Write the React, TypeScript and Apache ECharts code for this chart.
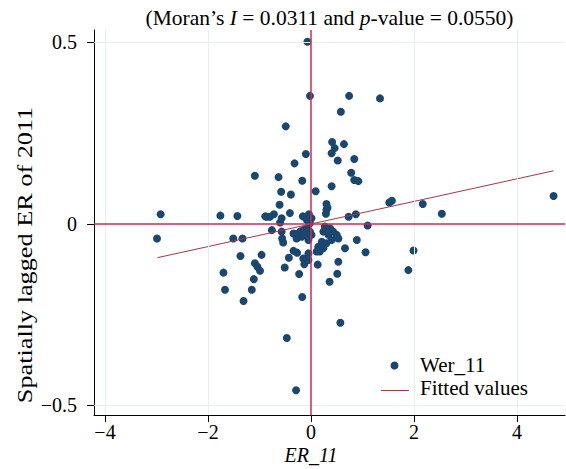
import React, { useEffect, useRef } from 'react';
import * as echarts from 'echarts';

const erValues = [
  -0.07, -0.02, 0.74, 1.34, 0.58, -0.49, 0.41, 0.46, 0.40, 0.64,
  -0.10, 0.52, 0.84, -0.32, 0.78, -1.09, -0.63, -0.17, 0.84, 0.92,
  0.40, -0.58, 0.09, -0.39, -0.61, 0.30, 0.32, 0.29, 1.52, 1.57,
  2.17, 2.54, 4.71, -2.92, -2.99, -1.76, -1.43, -0.89, -0.80, -0.72,
  -0.41, -0.57, -0.60, -0.16, -0.04, 0.01, -0.08, -0.02, 0.73, 0.87,
  1.10, 0.27, 0.37, 0.43, 0.50, 0.53, 0.34, 0.24, 0.40, 0.30,
  0.21, 0.14, 0.11, 0.24, 0.17, 0.66, 0.89, 1.06, -0.05, -0.05,
  0.13, 0.53, 0.51, 0.36, 1.99, 1.89, 0.57, -0.17, -0.47, -0.29,
  -1.51, -1.33, -1.37, -0.96, -1.09, -1.04, -0.99, -1.70, -1.67, -1.11,
  -1.15, -1.31, -0.76, -0.57, -0.56, -0.54, -0.34, -0.28, -0.21, -0.15,
  -0.08, -0.18, -0.12, -0.02, 0.01, -0.05, -0.28, -0.34, -0.27, -0.15,
  -0.13, -0.43, -0.51, -0.23, -0.86, 0.30
];
const laggedValues = [
  0.502, 0.353, 0.353, 0.346, 0.309, 0.269, 0.226, 0.209, 0.195, 0.220,
  0.193, 0.175, 0.179, 0.167, 0.141, 0.133, 0.129, 0.119, 0.121, 0.118,
  0.104, 0.089, 0.090, 0.081, 0.053, 0.055, 0.045, 0.028, 0.059, 0.064,
  0.055, 0.028, 0.077, 0.027, -0.040, 0.023, 0.022, 0.021, 0.020, 0.027,
  0.030, 0.016, 0.004, 0.021, 0.027, 0.016, 0.011, 0.002, 0.020, 0.027,
  -0.004, -0.007, -0.012, -0.021, -0.030, -0.040, -0.030, -0.021, -0.044, -0.053,
  -0.049, -0.063, -0.076, -0.067, -0.076, -0.067, -0.044, -0.078, -0.081, -0.099,
  -0.112, -0.104, -0.137, -0.159, -0.073, -0.127, -0.272, -0.201, -0.314, -0.458,
  -0.040, -0.040, -0.088, -0.085, -0.108, -0.118, -0.129, -0.134, -0.181, -0.152,
  -0.181, -0.212, -0.017, -0.021, -0.040, -0.051, -0.026, -0.028, -0.021, -0.017,
  -0.012, -0.035, -0.030, -0.021, -0.030, -0.044, -0.040, -0.074, -0.079, -0.095,
  -0.111, -0.093, -0.120, -0.138, 0.020, 0.039
];
const fittedX = [-2.98, 4.71];
const fittedY = [-0.0927, 0.1465];
const xTicks = [-4, -2, 0, 2, 4];
const yTicks = [-0.5, 0, 0.5];
const xGridValues = [-4, -2, 2, 4];
const yGridValues = [-0.5, 0.5];
const legendNames = ['Wer_11', 'Fitted values'];

const SERIF = 'Liberation Serif';
const POINT_COLOR = '#1a476f';
const FIT_COLOR = '#9e3a45';
const fmt = (v: number) => (v < 0 ? '\u2212' + Math.abs(v) : String(v));

export default function App() {
  const ref = useRef<HTMLDivElement>(null);
  useEffect(() => {
    if (!ref.current) return;
    const chart = echarts.init(ref.current, null, { renderer: 'svg' });
    const points = erValues.map((x, i) => [x, laggedValues[i]]);
    const fitted = fittedX.map((x, i) => [x, fittedY[i]]);
    chart.setOption({
      animation: false,
      backgroundColor: '#ffffff',
      textStyle: { fontFamily: SERIF },
      grid: { left: 94, top: 30, right: 1, bottom: 54, containLabel: false, outerBoundsMode: 'none' },
      xAxis: {
        type: 'value',
        min: -4.2136,
        max: 4.932,
        axisLine: { show: true, onZero: false, lineStyle: { color: '#000', width: 1 } },
        axisTick: { show: true, customValues: xTicks, length: 7, lineStyle: { color: '#000' } },
        axisLabel: {
          customValues: xTicks,
          formatter: fmt,
          fontFamily: SERIF,
          fontSize: 20,
          color: '#000',
          margin: 7,
        },
        splitLine: { show: false },
      },
      yAxis: {
        type: 'value',
        min: -0.5262,
        max: 0.5344,
        axisLine: { show: true, onZero: false, lineStyle: { color: '#000', width: 1 } },
        axisTick: { show: true, customValues: yTicks, length: 7, lineStyle: { color: '#000' } },
        axisLabel: {
          customValues: yTicks,
          formatter: fmt,
          fontFamily: SERIF,
          fontSize: 20,
          color: '#000',
          margin: 17,
        },
        splitLine: { show: false },
      },
      series: [
        {
          type: 'line',
          name: 'grid',
          data: [],
          silent: true,
          z: 1,
          markLine: {
            silent: true,
            symbol: 'none',
            label: { show: false },
            lineStyle: { color: '#e6eff1', width: 1, type: 'solid' },
            data: [
              ...xGridValues.map((v) => ({ xAxis: v })),
              ...yGridValues.map((v) => ({ yAxis: v })),
            ],
          },
        },
        {
          type: 'line',
          name: 'ref',
          data: [],
          silent: true,
          z: 2,
          markLine: {
            silent: true,
            symbol: 'none',
            label: { show: false },
            lineStyle: { color: '#d02a50', width: 1.5, type: 'solid' },
            data: [{ xAxis: 0 }, { yAxis: 0 }],
          },
        },
        {
          type: 'scatter',
          name: legendNames[0],
          data: points,
          symbol: 'circle',
          symbolSize: 8,
          itemStyle: { color: POINT_COLOR, opacity: 1 },
          z: 3,
        },
        {
          type: 'line',
          name: legendNames[1],
          data: fitted,
          showSymbol: false,
          symbol: 'none',
          lineStyle: { color: FIT_COLOR, width: 1 },
          itemStyle: { color: FIT_COLOR },
          z: 4,
        },
      ],
      graphic: [
        {
          type: 'text',
          x: 329.5,
          y: 18,
          style: {
            text: '(Moran\u2019s {i|I} = 0.0311 and {i|p}-value = 0.0550)',
            fontFamily: SERIF,
            fontSize: 21.5,
            fill: '#000',
            align: 'center',
            verticalAlign: 'middle',
            rich: { i: { fontStyle: 'italic', fontFamily: SERIF, fontSize: 21.5, fill: '#000' } },
          },
        },
        {
          type: 'text',
          x: 311,
          y: 455,
          style: {
            text: 'ER_11',
            fontFamily: SERIF,
            fontSize: 20,
            fontStyle: 'italic',
            fill: '#000',
            align: 'center',
            verticalAlign: 'middle',
          },
        },
        {
          type: 'text',
          x: 25,
          y: 255,
          rotation: Math.PI / 2,
          scaleX: 1.25,
          style: {
            text: 'Spatially lagged ER of 2011',
            fontFamily: SERIF,
            fontSize: 21,
            fill: '#000',
            align: 'center',
            verticalAlign: 'middle',
          },
        },
        {
          type: 'circle',
          shape: { cx: 394.5, cy: 365.5, r: 4 },
          style: { fill: POINT_COLOR },
          z: 10,
        },
        {
          type: 'line',
          shape: { x1: 381, y1: 390.5, x2: 409, y2: 390.5 },
          style: { stroke: FIT_COLOR, lineWidth: 1 },
          z: 10,
        },
        {
          type: 'text',
          x: 420,
          y: 365,
          style: {
            text: legendNames[0],
            fontFamily: SERIF,
            fontSize: 21,
            fill: '#000',
            align: 'left',
            verticalAlign: 'middle',
          },
          z: 10,
        },
        {
          type: 'text',
          x: 420,
          y: 388,
          style: {
            text: legendNames[1],
            fontFamily: SERIF,
            fontSize: 21,
            fill: '#000',
            align: 'left',
            verticalAlign: 'middle',
          },
          z: 10,
        },
      ],
    });
    return () => chart.dispose();
  }, []);
  return <div ref={ref} style={{ position: 'fixed', left: 0, top: 0, width: 566, height: 469 }} />;
}
